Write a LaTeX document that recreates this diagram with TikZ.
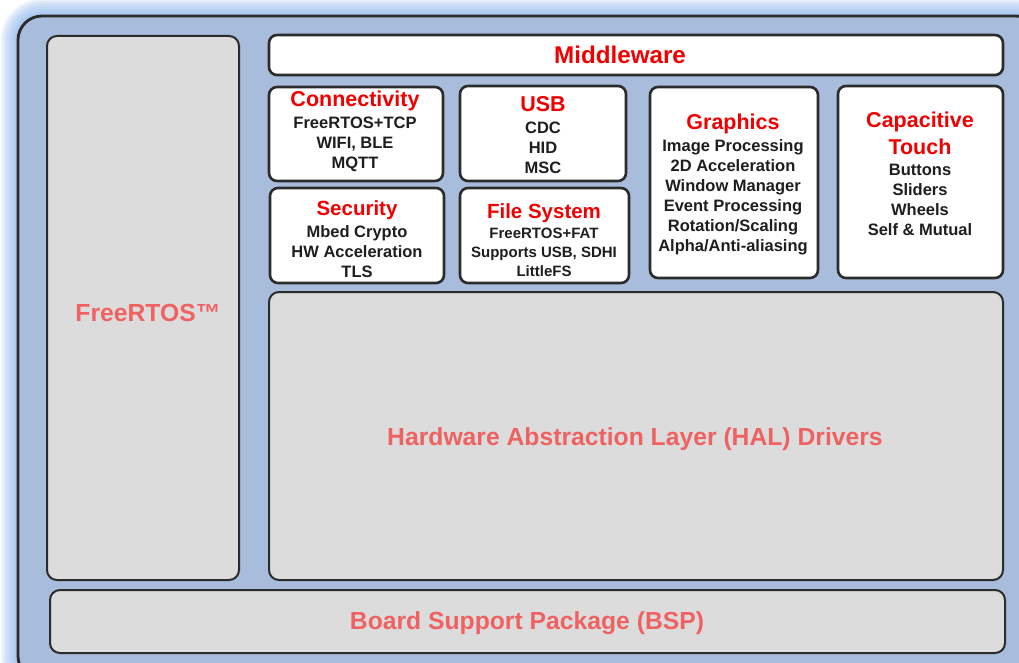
\documentclass[tikz,border=0pt]{standalone}
\usepackage{fontspec}
\setmainfont{Liberation Sans}
\definecolor{framefill}{HTML}{A7BDDB}
\definecolor{glow}{HTML}{8DB6EE}
\definecolor{boxgray}{HTML}{DCDCDC}
\definecolor{edge}{HTML}{2B2B2B}
\definecolor{salmon}{HTML}{F06262}
\definecolor{titlered}{HTML}{F00000}
\definecolor{bodytxt}{HTML}{1E1E1E}
\tikzset{
  graybox/.style={draw=edge, line width=2pt, fill=boxgray, rounded corners=10pt, inner sep=0pt},
  whitebox/.style={draw=edge, line width=2.6pt, fill=white, rounded corners=8pt, inner sep=0pt},
  bigtxt/.style={text=salmon, font=\fontsize{24.7}{28}\selectfont\bfseries, inner sep=0pt},
  ttl/.style={text=titlered, font=\fontsize{21.5}{26}\selectfont\bfseries, inner sep=0pt, align=center},
  body/.style={text=bodytxt, font=\fontsize{16.5}{20}\selectfont\bfseries, inner sep=0pt, align=center},
  bodysm/.style={text=bodytxt, font=\fontsize{15}{19}\selectfont\bfseries, inner sep=0pt, align=center},
}
\begin{document}
\begin{tikzpicture}[x=1pt,y=-1pt]
\useasboundingbox (0,0) rectangle (1019,663);
\fill[white] (0,0) rectangle (1019,663);
% glow
\foreach \w in {34,29,24,19,14,9,5}{
  \draw[glow, line width=\w pt, opacity=0.17, rounded corners=24pt] (18,16) rectangle (1040,680);
}
% outer frame
\draw[edge, line width=2.8pt, fill=framefill, rounded corners=24pt] (18,16) rectangle (1040,680);
% FreeRTOS column
\node[graybox, minimum width=192pt, minimum height=544pt] (rtos) at (143,308) {};
\node[bigtxt] (rtosT) at (148,313) {FreeRTOS™};
% Middleware bar
\node[whitebox, minimum width=734pt, minimum height=40pt] (mw) at (636,55) {};
\node[ttl, font=\fontsize{24.2}{28}\selectfont\bfseries] (mwT) at (620,55) {Middleware};
% Connectivity
\node[whitebox, minimum width=174pt, minimum height=94pt] (conn) at (356,134) {};
\node[ttl] (connT) at (355,101) {Connectivity};
\node[body] (connB) at (355,144) {FreeRTOS+TCP\\WIFI, BLE\\MQTT};
% USB
\node[whitebox, minimum width=166pt, minimum height=95pt] (usb) at (543,133.5) {};
\node[ttl] (usbT) at (543,104) {USB};
\node[body] (usbB) at (543,147.5) {CDC\\HID\\MSC};
% Security
\node[whitebox, minimum width=174pt, minimum height=95pt] (sec) at (357,235.5) {};
\node[ttl, font=\fontsize{20.5}{25}\selectfont\bfseries] (secT) at (357,210) {Security};
\node[body] (secB) at (357,252) {Mbed Crypto\\HW Acceleration\\TLS};
% File System
\node[whitebox, minimum width=169pt, minimum height=95pt] (fs) at (544.5,235.5) {};
\node[ttl, font=\fontsize{20.5}{25}\selectfont\bfseries] (fsT) at (544,213) {File System};
\node[bodysm] (fsB) at (544,252) {FreeRTOS+FAT\\Supports USB, SDHI\\LittleFS};
% Graphics
\node[whitebox, minimum width=168pt, minimum height=191pt] (gfx) at (734,182.5) {};
\node[ttl] (gfxT) at (733,124) {Graphics};
\node[body] (gfxB) at (733,197) {Image Processing\\2D Acceleration\\Window Manager\\Event Processing\\Rotation/Scaling\\Alpha/Anti-aliasing};
% Capacitive Touch
\node[whitebox, minimum width=165pt, minimum height=192pt] (ct) at (920.5,182) {};
\node[ttl, font=\fontsize{21.5}{27}\selectfont\bfseries] (ctT) at (920,133) {Capacitive\\Touch};
\node[body] (ctB) at (920,200) {Buttons\\Sliders\\Wheels\\Self \& Mutual};
% HAL
\node[graybox, minimum width=734pt, minimum height=288pt] (hal) at (636,436) {};
\node[bigtxt] (halT) at (635,439) {Hardware Abstraction Layer (HAL) Drivers};
% BSP
\node[graybox, minimum width=955pt, minimum height=63pt] (bsp) at (527.5,621.5) {};
\node[bigtxt] (bspT) at (527,623) {Board Support Package (BSP)};
\end{tikzpicture}
\end{document}
